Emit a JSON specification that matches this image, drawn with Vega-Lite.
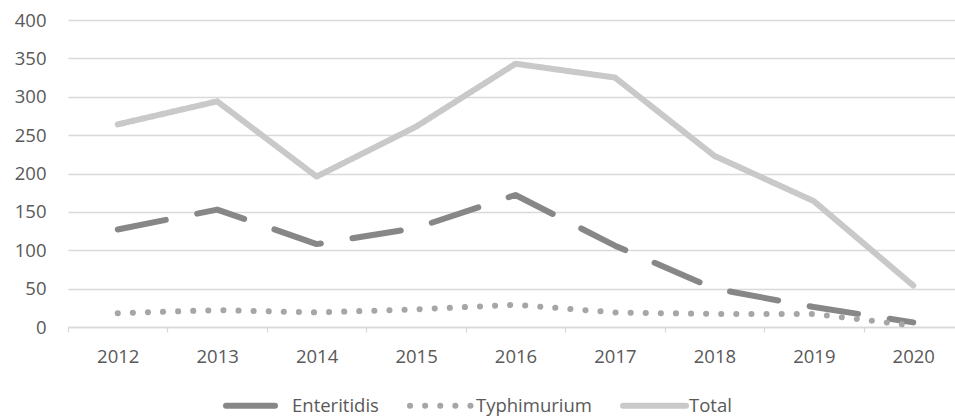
{
  "$schema": "https://vega.github.io/schema/vega-lite/v6.json",
  "autosize": {"type": "none"},
  "width": 887,
  "height": 307,
  "padding": {"left": 68, "top": 20, "right": 0, "bottom": 89},
  "background": "white",
  "config": {
    "view": {"stroke": null},
    "font": "Open Sans",
    "axis": {"labelFont": "Open Sans", "labelColor": "#595959", "labelFontSize": 18.5}
  },
  "data": {
    "values": [
      {"year": "2012", "series": "Enteritidis", "value": 127},
      {"year": "2013", "series": "Enteritidis", "value": 153},
      {"year": "2014", "series": "Enteritidis", "value": 108},
      {"year": "2015", "series": "Enteritidis", "value": 129},
      {"year": "2016", "series": "Enteritidis", "value": 172},
      {"year": "2017", "series": "Enteritidis", "value": 106},
      {"year": "2018", "series": "Enteritidis", "value": 50},
      {"year": "2019", "series": "Enteritidis", "value": 26},
      {"year": "2020", "series": "Enteritidis", "value": 6},
      {"year": "2012", "series": "Typhimurium", "value": 18},
      {"year": "2013", "series": "Typhimurium", "value": 22},
      {"year": "2014", "series": "Typhimurium", "value": 19},
      {"year": "2015", "series": "Typhimurium", "value": 23},
      {"year": "2016", "series": "Typhimurium", "value": 29},
      {"year": "2017", "series": "Typhimurium", "value": 19},
      {"year": "2018", "series": "Typhimurium", "value": 17},
      {"year": "2019", "series": "Typhimurium", "value": 17},
      {"year": "2020", "series": "Typhimurium", "value": 2},
      {"year": "2012", "series": "Total", "value": 264},
      {"year": "2013", "series": "Total", "value": 294},
      {"year": "2014", "series": "Total", "value": 196},
      {"year": "2015", "series": "Total", "value": 261},
      {"year": "2016", "series": "Total", "value": 343},
      {"year": "2017", "series": "Total", "value": 325},
      {"year": "2018", "series": "Total", "value": 223},
      {"year": "2019", "series": "Total", "value": 164},
      {"year": "2020", "series": "Total", "value": 54}
    ]
  },
  "mark": {"type": "line", "strokeWidth": 6, "strokeCap": "round", "strokeJoin": "round"},
  "encoding": {
    "x": {
      "field": "year",
      "type": "ordinal",
      "scale": {"type": "band", "range": [0, 895], "paddingInner": 0, "paddingOuter": 0},
      "axis": {
        "title": null,
        "labelAngle": 0,
        "tickBand": "extent",
        "ticks": true,
        "tickSize": 5,
        "tickColor": "#d9d9d9",
        "tickWidth": 1.3,
        "domainColor": "#d9d9d9",
        "domainWidth": 1.3,
        "labelPadding": 15,
        "grid": false
      }
    },
    "y": {
      "field": "value",
      "type": "quantitative",
      "scale": {"domain": [0, 400], "nice": false},
      "axis": {
        "title": null,
        "values": [0, 50, 100, 150, 200, 250, 300, 350, 400],
        "domain": false,
        "ticks": false,
        "labelPadding": 22,
        "gridColor": "#d9d9d9",
        "gridWidth": 1.3
      }
    },
    "color": {
      "field": "series",
      "type": "nominal",
      "scale": {"domain": ["Enteritidis", "Typhimurium", "Total"], "range": ["#878787", "#a6a6a6", "#c9c9c9"]},
      "legend": {
        "title": null,
        "orient": "none",
        "direction": "horizontal",
        "legendX": 155,
        "legendY": 351,
        "symbolType": "stroke",
        "symbolSize": 3969,
        "symbolStrokeWidth": 6,
        "labelOffset": 0,
        "columnPadding": 19,
        "labelFont": "Open Sans",
        "labelFontSize": 18.5,
        "labelColor": "#595959",
        "encoding": {"symbols": {"strokeCap": {"value": "round"}}}
      }
    },
    "strokeDash": {
      "field": "series",
      "type": "nominal",
      "scale": {"domain": ["Enteritidis", "Typhimurium", "Total"], "range": [[49, 32], [0.1, 15], [1, 0]]},
      "legend": null
    }
  }
}
